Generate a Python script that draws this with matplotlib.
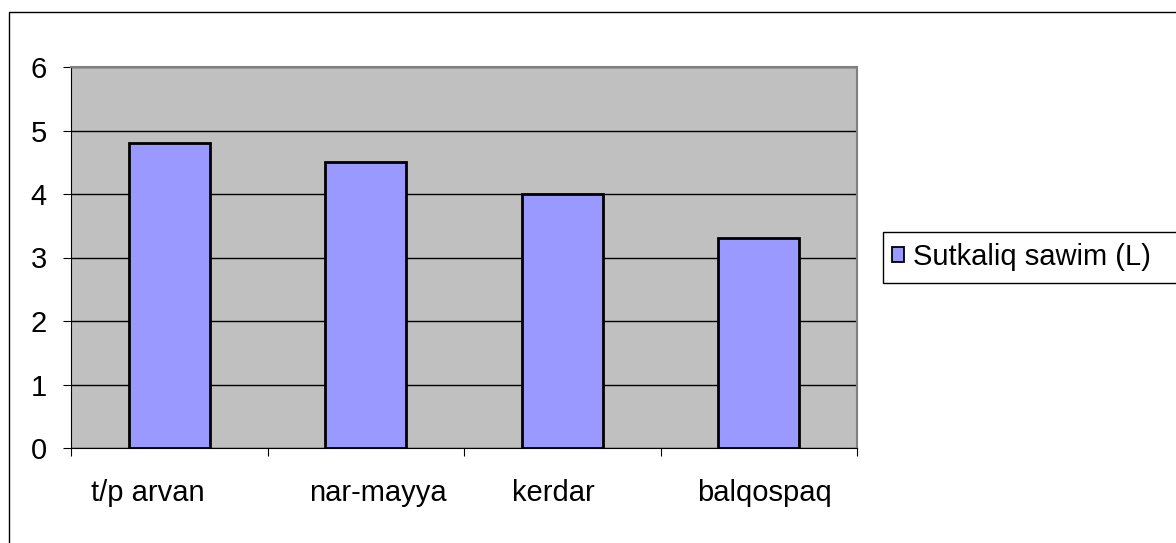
import matplotlib
matplotlib.use("Agg")
import matplotlib.pyplot as plt
import matplotlib.patches as mpatches
import matplotlib.transforms as mtransforms

categories = ["t/p arvan", "nar-mayya", "kerdar", "balqospaq"]
values = [4.8, 4.5, 4.0, 3.3]
series_name = "Sutkaliq sawim (L)"
yticks = [0, 1, 2, 3, 4, 5, 6]

plt.rcParams['font.family'] = ['Liberation Sans', 'DejaVu Sans']
FS = 21

W, H = 1176, 543
fig = plt.figure(figsize=(W / 100, H / 100), dpi=100)
fig.patch.set_facecolor("white")

# outer chart frame (extends past right/bottom edges)
frame = mpatches.Rectangle((9 / W, -0.1), 1.2, 1 - 12.5 / H + 0.1,
                           transform=fig.transFigure, fill=False,
                           edgecolor="black", linewidth=1.0, clip_on=False)
fig.patches.append(frame)

ax = fig.add_axes([71 / W, (H - 448) / H, (857 - 71) / W, (448 - 67) / H])
ax.set_facecolor("#C0C0C0")

x = list(range(len(categories)))
bars = ax.bar(x, values, width=0.41, color="#9999FF", edgecolor="black",
              linewidth=2.0, zorder=3, label=series_name)

ax.set_xlim(-0.5, len(categories) - 0.5)
ax.set_ylim(0, 6)
ax.set_yticks(yticks)
ax.set_yticklabels([str(t) for t in yticks], fontsize=FS)
ax.yaxis.grid(True, color="black", linewidth=1.0, zorder=1)
ax.set_axisbelow(True)

# category boundary ticks
ax.set_xticks([i + 0.5 for i in range(-1, len(categories))], minor=False)
ax.set_xticklabels([])
ax.tick_params(axis="x", which="major", direction="out", length=5.5, width=0.8)
ax.set_xticks(x, minor=True)
ax.set_xticklabels(categories, minor=True, fontsize=FS)
ax.tick_params(axis="x", which="minor", length=0, pad=22)
ax.tick_params(axis="y", direction="out", length=5.5, width=0.8, pad=12)

offsets_px = [-21, 12, -9, 6]
for lbl, dx in zip(ax.get_xticklabels(minor=True), offsets_px):
    lbl.set_transform(lbl.get_transform() +
                      mtransforms.ScaledTranslation(dx / 100, 0, fig.dpi_scale_trans))

for side in ("top", "right"):
    ax.spines[side].set_color("#808080")
    ax.spines[side].set_linewidth(1.5)
ax.spines["left"].set_color("black")
ax.spines["bottom"].set_color("black")
ax.spines["left"].set_linewidth(0.8)
ax.spines["bottom"].set_linewidth(0.8)

# legend box
lbox = mpatches.Rectangle((883 / W, 1 - 283 / H), 0.5, 51 / H,
                          transform=fig.transFigure, fill=False,
                          edgecolor="black", linewidth=1.0, clip_on=False)
fig.patches.append(lbox)
handle = mpatches.Patch(facecolor="#9999FF", edgecolor="black", linewidth=1.3)
fig.legend([handle], [series_name], loc="center left",
           bbox_to_anchor=(892 / W, 1 - 257 / H), frameon=False,
           fontsize=FS, handlelength=0.42, handleheight=0.42,
           handletextpad=0.3, borderpad=0, borderaxespad=0)

fig.savefig("out.png", dpi=100)
